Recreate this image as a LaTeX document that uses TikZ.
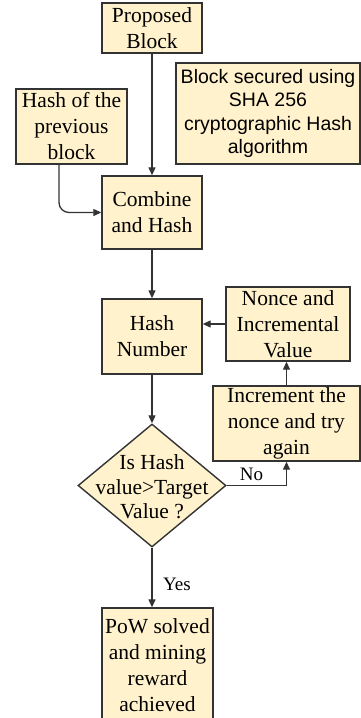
\documentclass[tikz,border=0pt]{standalone}
\usepackage{fontspec}
\setmainfont{Liberation Serif}
\newfontfamily\sansarial{Liberation Sans}
\usetikzlibrary{shapes.geometric,arrows.meta}
\definecolor{boxfill}{HTML}{FFF2CC}
\definecolor{lineclr}{HTML}{333333}
\begin{document}
\begin{tikzpicture}[x=1pt,y=-1pt,
 box/.style={draw=lineclr, fill=boxfill, line width=1.4pt, inner sep=0pt, align=center, font=\fontsize{21.5}{26}\selectfont, text=black},
 conn/.style={draw=lineclr, line width=1.3pt, -{Triangle[length=8pt,width=7pt]}},
 lbl/.style={font=\fontsize{19}{22}\selectfont, text=black, inner sep=0pt}]
\useasboundingbox (0,0) rectangle (361,718);
\node[box, minimum width=100, minimum height=50] (prop) at (152,28) {Proposed\\Block};
\node[box, minimum width=184, minimum height=101, font=\sansarial\fontsize{19.5}{23.3}\selectfont] (sec) at (268,113.5) {Block secured using\\SHA 256\\cryptographic Hash\\algorithm};
\node[box, minimum width=111, minimum height=75] (prev) at (71.5,126.5) {Hash of the\\previous\\block};
\node[box, minimum width=100, minimum height=73] (comb) at (152,212.5) {Combine\\and Hash};
\node[box, minimum width=100, minimum height=75] (hashn) at (152,336.5) {Hash\\Number};
\node[box, minimum width=124, minimum height=74] (nonce) at (288,324) {Nonce and\\Incremental\\Value};
\node[box, minimum width=147, minimum height=75] (inc) at (286.5,423.5) {Increment the\\nonce and try\\again};
\node[box, shape=diamond, minimum width=148, minimum height=123] (dec) at (152,485.5) {};
\node[align=center, inner sep=0pt, font=\fontsize{21.5}{24.5}\selectfont] (dectext) at (152,487) {Is Hash\\value>Target\\Value ?};
\node[box, minimum width=111, minimum height=114] (pow) at (157.5,665) {PoW solved\\and mining\\reward\\achieved};

\draw[conn] (prop.south) -- (prop.south |- comb.north);
\draw[conn, rounded corners=10pt] ([xshift=-12.5pt]prev.south) |- (comb.west);
\draw[conn] (comb.south) -- (hashn.north);
\draw[conn] (hashn.south) -- (dec.north);
\draw[conn] (nonce.west) -- (nonce.west -| hashn.east);
\draw[conn] (inc.north) -- (inc.north |- nonce.south);
\draw[conn] (dec.east) -| (inc.south);
\draw[conn] (dec.south) -- (dec.south |- pow.north);
\node[lbl] (no) at (251.5,474) {No};
\node[lbl] (yes) at (177,584) {Yes};
\end{tikzpicture}
\end{document}
